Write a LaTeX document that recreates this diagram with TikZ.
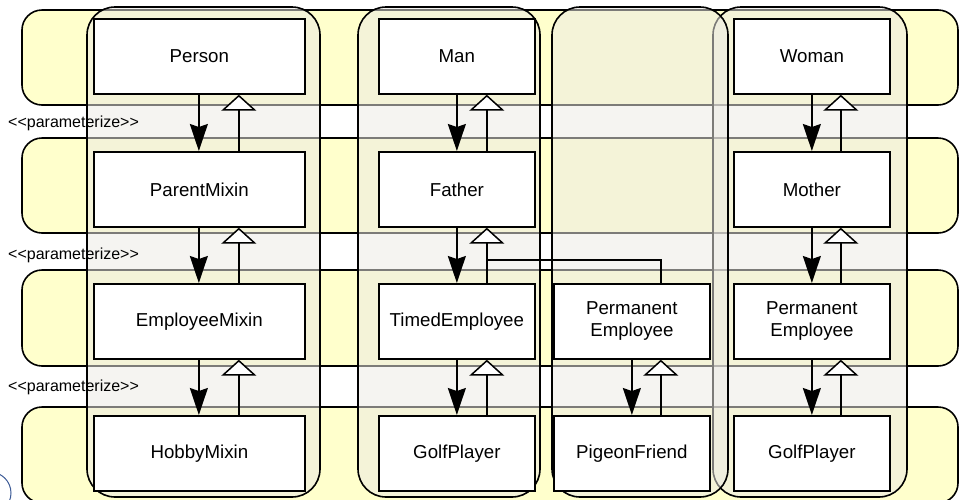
\documentclass[tikz,border=0pt]{standalone}
\usepackage{fontspec}
\setmainfont{Liberation Sans}
\usetikzlibrary{arrows.meta,calc}
\definecolor{rowyellow}{RGB}{255,255,204}
\definecolor{colfill}{RGB}{236,234,228}
\definecolor{logoblue}{RGB}{60,90,150}
\begin{document}
\begin{tikzpicture}[x=1pt,y=-1pt,
  rowband/.style={draw=black, line width=1.6pt, fill=rowyellow, rounded corners=20pt},
  colband/.style={draw=black, line width=1.6pt, fill=colfill, fill opacity=0.53, rounded corners=28pt},
  cls/.style={draw=black, line width=1.7pt, fill=white, minimum height=75pt, inner sep=2pt,
    align=center, font=\fontsize{18.7}{22}\selectfont, anchor=north west},
  wide/.style={minimum width=211pt},
  narrow/.style={minimum width=156pt},
  param/.style={anchor=west, inner sep=0pt, font=\fontsize{16}{19}\selectfont},
  dep/.style={line width=1.5pt, -{Stealth[length=27pt,width=18pt,inset=3pt]}},
  gen/.style={line width=1.5pt, -{Triangle[length=16pt,width=35pt,fill=white]}},
  link/.style={line width=1.5pt}
]
\clip (0,0) rectangle (959,499);
% horizontal bands
\draw[rowband] (22,10) rectangle (958,105);
\draw[rowband] (22,138) rectangle (958,233);
\draw[rowband] (22,270) rectangle (958,366);
\draw[rowband] (22,407) rectangle (958,503);
% vertical bands
\draw[colband] (87,7) rectangle (320,497);
\draw[colband] (358,7) rectangle (540,497);
\draw[colband] (713,7) rectangle (907,497);
\draw[colband] (552,7) rectangle (728,497);
% labels
\node[param] (p1) at (8,123) {<{}<parameterize>{}>};
\node[param] (p2) at (8,255) {<{}<parameterize>{}>};
\node[param] (p3) at (8,387) {<{}<parameterize>{}>};
% logo fragment
\draw[logoblue, line width=1pt] (-10,493) circle (21);
% classes
\node[cls,wide] (person) at (93,18) {Person};
\node[cls,wide] (parent) at (93,151) {ParentMixin};
\node[cls,wide] (employee) at (93,283) {EmployeeMixin};
\node[cls,wide] (hobby) at (93,415) {HobbyMixin};
\node[cls,narrow] (man) at (378,18) {Man};
\node[cls,narrow] (father) at (378,151) {Father};
\node[cls,narrow] (timed) at (378,283) {TimedEmployee};
\node[cls,narrow] (golfa) at (378,415) {GolfPlayer};
\node[cls,narrow] (perma) at (553,283) {Permanent\\Employee};
\node[cls,narrow] (pigeon) at (553,415) {PigeonFriend};
\node[cls,narrow] (woman) at (733,18) {Woman};
\node[cls,narrow] (mother) at (733,151) {Mother};
\node[cls,narrow] (permb) at (733,283) {Permanent\\Employee};
\node[cls,narrow] (golfb) at (733,415) {GolfPlayer};
% column 1
\draw[dep] ([xshift=-0.5pt]person.south) -- ([xshift=-0.5pt]parent.north);
\draw[gen] ([xshift=39.5pt]parent.north) -- ([xshift=39.5pt]person.south);
\draw[dep] ([xshift=-0.5pt]parent.south) -- ([xshift=-0.5pt]employee.north);
\draw[gen] ([xshift=39.5pt]employee.north) -- ([xshift=39.5pt]parent.south);
\draw[dep] ([xshift=-0.5pt]employee.south) -- ([xshift=-0.5pt]hobby.north);
\draw[gen] ([xshift=39.5pt]hobby.north) -- ([xshift=39.5pt]employee.south);
% column 2
\draw[dep] (man.south) -- (father.north);
\draw[gen] ([xshift=30pt]father.north) -- ([xshift=30pt]man.south);
\draw[dep] (father.south) -- (timed.north);
\draw[gen] ([xshift=30pt]timed.north) -- ([xshift=30pt]father.south);
\draw[dep] (timed.south) -- (golfa.north);
\draw[gen] ([xshift=30pt]golfa.north) -- ([xshift=30pt]timed.south);
% column 3
\draw[dep] (perma.south) -- (pigeon.north);
\draw[gen] ([xshift=29pt]pigeon.north) -- ([xshift=29pt]perma.south);
\coordinate (join) at ($(timed.north)+(30,-23)$);
\draw[link] ([xshift=29pt]perma.north) |- (join);
% column 4
\draw[dep] (woman.south) -- (mother.north);
\draw[gen] ([xshift=29pt]mother.north) -- ([xshift=29pt]woman.south);
\draw[dep] (mother.south) -- (permb.north);
\draw[gen] ([xshift=29pt]permb.north) -- ([xshift=29pt]mother.south);
\draw[dep] (permb.south) -- (golfb.north);
\draw[gen] ([xshift=29pt]golfb.north) -- ([xshift=29pt]permb.south);
\end{tikzpicture}
\end{document}
